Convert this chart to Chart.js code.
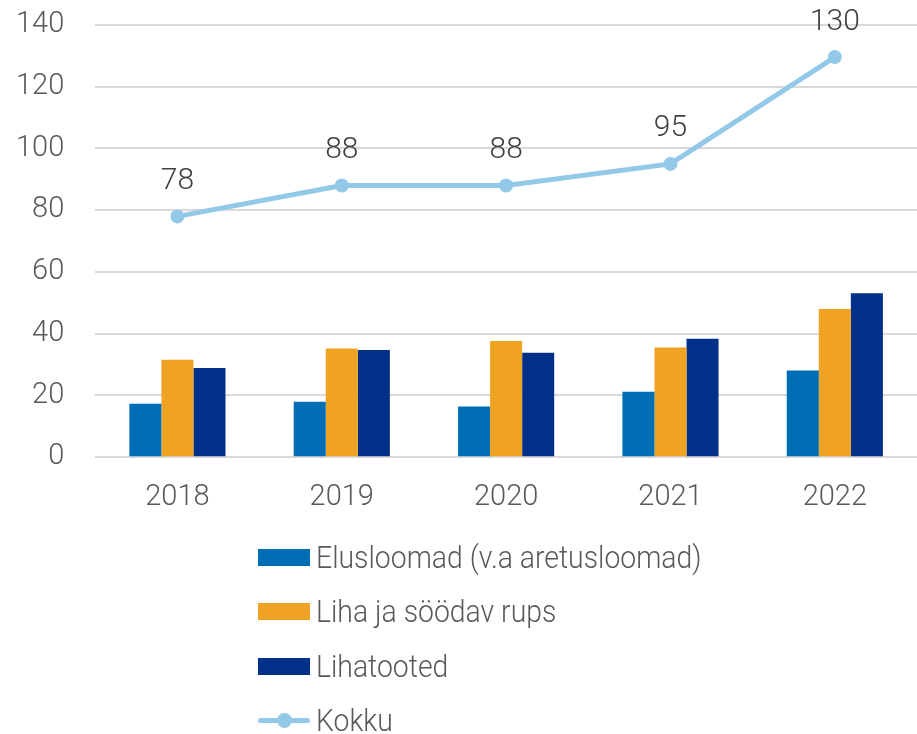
<!DOCTYPE html>
<html>
<head>
<meta charset="utf-8">
<script src="https://cdn.jsdelivr.net/npm/chart.js@4/dist/chart.umd.min.js"></script>
<style>
  body { margin: 0; background: #fff; overflow: hidden; }
  #wrap { position: relative; width: 917px; height: 734px; }
  #legend { position: absolute; left: 258px; top: 530px; font-family: Roboto, sans-serif; font-weight: 300; font-size: 31px; color: #595959; }
  .item { display: flex; align-items: center; height: 54.5px; }
  .item div:last-child { transform: scaleX(0.915); transform-origin: left center; white-space: nowrap; }
  .box { width: 52px; height: 17px; margin-right: 6px; }
  .lineKey { width: 52px; height: 5px; margin-right: 6px; position: relative; border-radius: 3px; }
  .lineKey span { position: absolute; left: 19px; top: -5px; width: 15px; height: 15px; border-radius: 50%; }
</style>
</head>
<body>
<div id="wrap">
  <canvas id="myChart" width="917" height="734"></canvas>
  <div id="legend"></div>
</div>
<script>
const years = ["2018", "2019", "2020", "2021", "2022"];
const elusloomad = [17.3, 18.0, 16.4, 21.2, 28.1];
const liha = [31.6, 35.2, 37.6, 35.5, 48.0];
const lihatooted = [28.9, 34.7, 33.8, 38.4, 53.1];
const kokku = [78, 88, 88, 95, 129.6];

const yTicks = [0, 20, 40, 60, 80, 100, 120, 140];

const BLUE = "#006EB4";
const ORANGE = "#F0A223";
const NAVY = "#003087";
const LIGHT = "#93C9E8";

const textColor = "#595959";
const fontFamily = "Roboto, sans-serif";

// labels above the Kokku line points
const lineLabels = {
  id: "lineLabels",
  afterDatasetsDraw(chart) {
    const c = chart.ctx;
    const meta = chart.getDatasetMeta(0);
    c.save();
    c.font = "300 30px " + fontFamily;
    c.fillStyle = "#404040";
    c.textAlign = "center";
    c.textBaseline = "middle";
    meta.data.forEach((pt, i) => {
      c.fillText(Math.round(kokku[i]), pt.x, pt.y - 35);
    });
    c.restore();
  }
};

const ctx = document.getElementById("myChart");

const chart = new Chart(ctx, {
  data: {
    labels: years,
    datasets: [
      {
        type: "line",
        label: "Kokku",
        data: kokku,
        borderColor: LIGHT,
        backgroundColor: LIGHT,
        borderWidth: 5,
        pointRadius: 7,
        pointHoverRadius: 7,
        pointBackgroundColor: LIGHT,
        pointBorderWidth: 0,
        order: 0
      },
      {
        type: "bar",
        label: "Elusloomad (v.a aretusloomad)",
        data: elusloomad,
        backgroundColor: BLUE,
        order: 1
      },
      {
        type: "bar",
        label: "Liha ja söödav rups",
        data: liha,
        backgroundColor: ORANGE,
        order: 1
      },
      {
        type: "bar",
        label: "Lihatooted",
        data: lihatooted,
        backgroundColor: NAVY,
        order: 1
      }
    ]
  },
  options: {
    responsive: false,
    animation: false,
    datasets: {
      bar: { barPercentage: 1, categoryPercentage: 0.585 }
    },
    layout: { autoPadding: false, padding: { left: 13, right: 0, top: 25, bottom: 216 } },
    scales: {
      x: {
        grid: { display: true, color: "transparent", tickColor: "transparent", drawTicks: true, tickLength: 20 },
        border: { display: false },
        ticks: { color: textColor, font: { family: fontFamily, size: 29, weight: 300 }, padding: 3 }
      },
      y: {
        min: 0,
        max: 140,
        afterBuildTicks: (axis) => { axis.ticks = yTicks.map(v => ({ value: v })); },
        grid: { color: "#D9D9D9", lineWidth: 2, drawTicks: true, tickLength: 28, tickColor: "transparent" },
        border: { display: false },
        ticks: { color: textColor, font: { family: fontFamily, size: 29, weight: 300 }, padding: 3 }
      }
    },
    plugins: {
      legend: { display: false },
      tooltip: { enabled: false }
    }
  },
  plugins: [lineLabels]
});

// legend as a vertical list, same order as the picture
const legendEl = document.getElementById("legend");
const legendItems = [
  { label: chart.data.datasets[1].label, color: BLUE, kind: "box" },
  { label: chart.data.datasets[2].label, color: ORANGE, kind: "box" },
  { label: chart.data.datasets[3].label, color: NAVY, kind: "box" },
  { label: chart.data.datasets[0].label, color: LIGHT, kind: "line" }
];
legendItems.forEach(it => {
  const row = document.createElement("div");
  row.className = "item";
  if (it.kind === "box") {
    row.innerHTML = `<div class="box" style="background:${it.color}"></div><div>${it.label}</div>`;
  } else {
    row.innerHTML = `<div class="lineKey" style="background:${it.color}"><span style="background:${it.color}"></span></div><div>${it.label}</div>`;
  }
  legendEl.appendChild(row);
});
</script>
</body>
</html>
